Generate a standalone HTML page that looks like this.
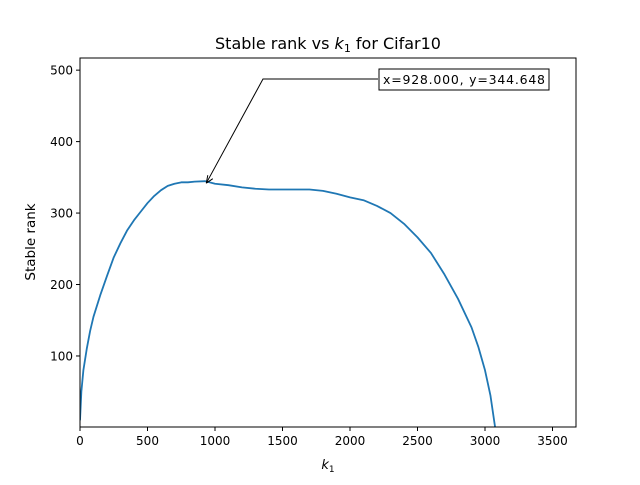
<!DOCTYPE html>
<html><head><meta charset="utf-8"><style>
body{margin:0;background:#fff;}
svg text{font-family:"DejaVu Sans","Liberation Sans",sans-serif;}
</style></head><body>
<svg id="chart" width="640" height="480" xmlns="http://www.w3.org/2000/svg">
<rect width="640" height="480" fill="#fff"/>
<text x="328" y="49" font-size="16" text-anchor="middle">Stable rank vs <tspan font-style="italic">k</tspan><tspan font-size="11" dy="3">1</tspan><tspan dy="-3"> for Cifar10</tspan></text>
<g id="plot"></g>
<text x="328" y="469" font-size="13" text-anchor="middle"><tspan font-style="italic">k</tspan><tspan font-size="9" dy="3">1</tspan></text>
<text transform="translate(35,242) rotate(-90)" font-size="13.5" text-anchor="middle">Stable rank</text>
</svg>
<script>
const xs = [0,10,25,50,75,100,150,200,250,300,350,400,450,500,550,600,650,700,750,800,850,928,1000,1100,1200,1300,1400,1500,1600,1700,1800,1900,2000,2100,2200,2300,2400,2500,2600,2700,2800,2900,2950,3000,3040,3075];
const ys = [10,50,80,110,135,155,185,212,238,258,276,290,302,314,324,332,338,341,343,343,344,344.6,341,339,336,334,333,333,333,333,331,327,322,318,310,300,285,266,244,214,180,140,113,80,45,0];
const xTicks = [0,500,1000,1500,2000,2500,3000,3500];
const yTicks = [100,200,300,400,500];
const L=80,R=576,T=58,B=427, xMin=0,xMax=3674,yMin=0.6,yMax=517;
const X=v=>L+(v-xMin)/(xMax-xMin)*(R-L);
const Y=v=>B-(v-yMin)/(yMax-yMin)*(B-T);
const g=document.getElementById('plot');
const NS='http://www.w3.org/2000/svg';
function mk(t,a){const e=document.createElementNS(NS,t);for(const k in a)e.setAttribute(k,a[k]);g.appendChild(e);return e;}
const cp=mk('clipPath',{id:'cp'});
const cr=document.createElementNS(NS,'rect');cr.setAttribute('x',L);cr.setAttribute('y',T);cr.setAttribute('width',R-L);cr.setAttribute('height',B-T);cp.appendChild(cr);
let d='';
for(let i=0;i<xs.length;i++){d+=(i?'L':'M')+X(xs[i]).toFixed(2)+','+Y(ys[i]).toFixed(2);}
const line=mk('path',{d:d,fill:'none',stroke:'#1f77b4','stroke-width':1.8,'stroke-linejoin':'round','clip-path':'url(#cp)'});


const frame=mk('rect',{x:L,y:T,width:R-L,height:B-T,fill:'none',stroke:'#000','stroke-width':1});


xTicks.forEach(v=>{
  const tk=mk('line',{x1:X(v),x2:X(v),y1:B,y2:B+4,stroke:'#000'});
  
  
  const t=mk('text',{x:X(v),y:B+18,'font-size':12,'text-anchor':'middle'});t.textContent=v;
  
  
});
yTicks.forEach(v=>{
  const tk=mk('line',{x1:L-4,x2:L,y1:Y(v),y2:Y(v),stroke:'#000'});
  
  
  const t=mk('text',{x:L-7,y:Y(v)+4.3,'font-size':12,'text-anchor':'end'});t.textContent=v;
  
  
});
// annotation
const ax=X(928),ay=Y(344.6);
const arr=mk('path',{d:`M378,79 L263,79 L${ax+1},${ay+2}`,fill:'none',stroke:'#000','stroke-width':1});


const head=mk('path',{d:`M${ax+1},${ay+2} l1.5,-8 M${ax+1},${ay+2} l6.5,-4.5`,fill:'none',stroke:'#000','stroke-width':1});


const box=mk('rect',{x:379,y:69,width:170,height:21,fill:'#fff',stroke:'#000','stroke-width':1});


const at=mk('text',{x:383,y:84,'font-size':12.5,textLength:162});at.textContent='x=928.000, y=344.648';


</script>
</body></html>
